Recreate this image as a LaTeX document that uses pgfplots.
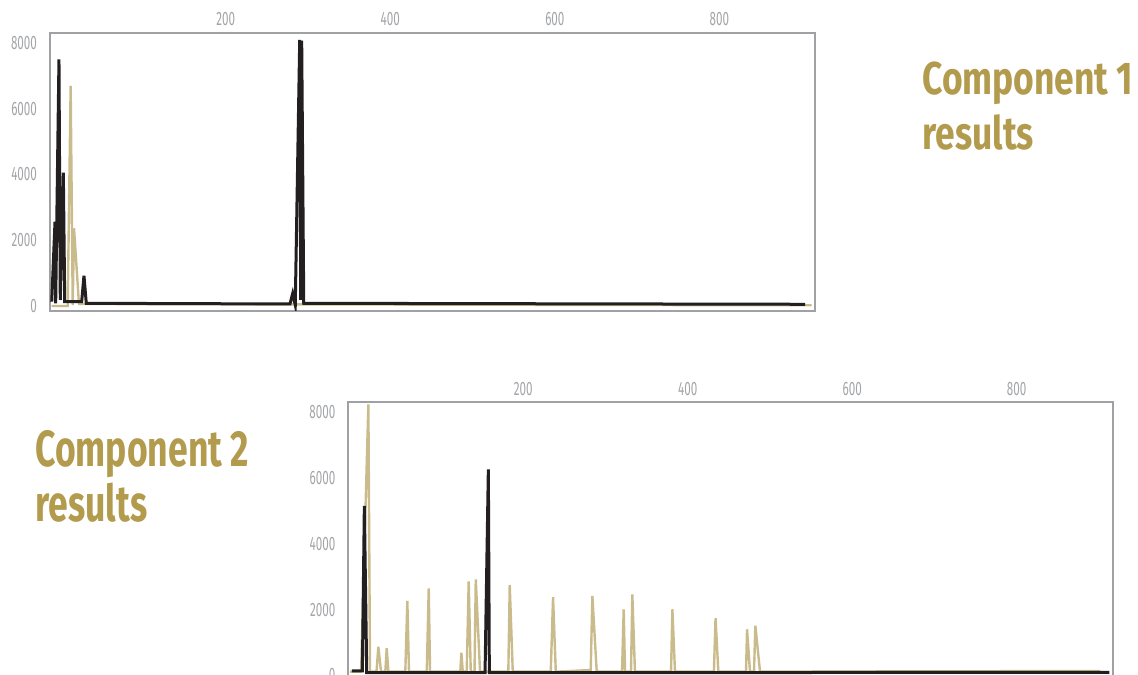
\documentclass[border=0pt]{standalone}
\usepackage{pgfplots}
\pgfplotsset{compat=1.18}
\usepackage{fontspec}
\newfontfamily\tickfont[FakeStretch=0.6]{Fira Sans}
\newfontfamily\titlefontA[FakeStretch=0.77]{Fira Sans}
\newfontfamily\titlefontB[FakeStretch=0.70]{Fira Sans}
\definecolor{tanline}{HTML}{C9BB8B}
\definecolor{ink}{HTML}{231F20}
\definecolor{gold}{HTML}{B39B4E}
\definecolor{framegray}{HTML}{9FA1A4}
\definecolor{tickgray}{HTML}{A3A5A8}
\pgfplotsset{myaxis/.style={scale only axis, width=382.5bp, height=139bp,
  ymin=-152, ymax=8304,
  xtick={200,400,600,800}, ytick={0,2000,4000,6000,8000},
  xticklabel pos=upper, major tick length=0pt,
  axis line style={draw=framegray, line width=1bp},
  ticklabel style={font={\tickfont\fontsize{9.7bp}{10bp}\selectfont}, text=tickgray},
  /pgf/number format/1000 sep={}, /pgf/number format/assume math mode=true,
  yticklabel style={xshift=-3bp},
  tanstyle/.style={draw=tanline, line width=1.2bp, mark=none},
  inkstyle/.style={draw=ink, line width=1.5bp, mark=none}}}
\begin{document}
\begin{tikzpicture}[x=0.5bp,y=0.5bp]
\useasboundingbox (0,0) rectangle (1138,674);
\clip (0,0) rectangle (1138,674);
\begin{axis}[myaxis, at={(25bp,181.5bp)}, anchor=south west, xmin=-13.6, xmax=916.2]
\addplot[tanstyle] coordinates {(-11.5,0) (7.9,0) (11.5,6692) (14,30) (15.6,2363) (21.6,61) (912.2,21)};
\addplot[inkstyle] coordinates {(-11.5,131) (-7.5,2564) (-6.7,82) (-2.7,7504) (-1.1,183) (2.6,4055) (4.3,131) (24.9,131) (27.7,922) (30.5,82) (278.1,61) (281.4,386) (284.5,30) (289.9,8091) (291.1,183) (292.3,8070) (294.8,82) (904.1,52)};
\end{axis}
\begin{axis}[myaxis, at={(174.15bp,135.85bp)}, anchor=north west, xmin=-12.8, xmax=917.6]
\addplot[tanstyle] coordinates {(-10.7,110) (2.7,110) (11.6,8243) (13.6,110) (21.5,110) (23.7,870) (27.0,110) (32.2,110) (33.9,821) (35.9,110) (56.5,110) (59.0,2260) (61.0,110) (82.6,110) (85.0,2646) (86.6,110) (123.4,110) (124.7,687) (126.4,110) (131.2,110) (133.6,2859) (136.1,110) (140.7,110) (142.2,2920) (147.4,110) (181.8,110) (183.5,2747) (187.2,110) (233.4,110) (236.2,2373) (239.5,110) (282,161) (284,2412) (289.3,110) (320.1,110) (322.1,2008) (323.7,110) (331,110) (332.6,2464) (335.8,110) (379.7,110) (381.3,2008) (384.5,110) (431.8,110) (433.8,1734) (437.2,110) (470.9,110) (472.1,1399) (475.7,110) (480.6,110) (482.2,1509) (487.9,110) (901.7,131)};
\addplot[inkstyle] coordinates {(-8.6,131) (4.3,131) (6.7,5150) (9.6,79) (153.5,79) (157.5,6266) (158.7,79) (912.7,91)};
\end{axis}
\node[anchor=base west, inner sep=0pt, text=gold, font={\titlefontA\bfseries\fontsize{23bp}{27bp}\selectfont}] at (922,579) {Component 1};
\node[anchor=base west, inner sep=0pt, text=gold, font={\titlefontA\bfseries\fontsize{23bp}{27bp}\selectfont}] at (922,524) {results};
\node[anchor=base west, inner sep=0pt, text=gold, font={\titlefontB\bfseries\fontsize{25.4bp}{29bp}\selectfont}] at (35,207.3) {Component 2};
\node[anchor=base west, inner sep=0pt, text=gold, font={\titlefontB\bfseries\fontsize{25.4bp}{29bp}\selectfont}] at (35,152.3) {results};
\end{tikzpicture}
\end{document}
